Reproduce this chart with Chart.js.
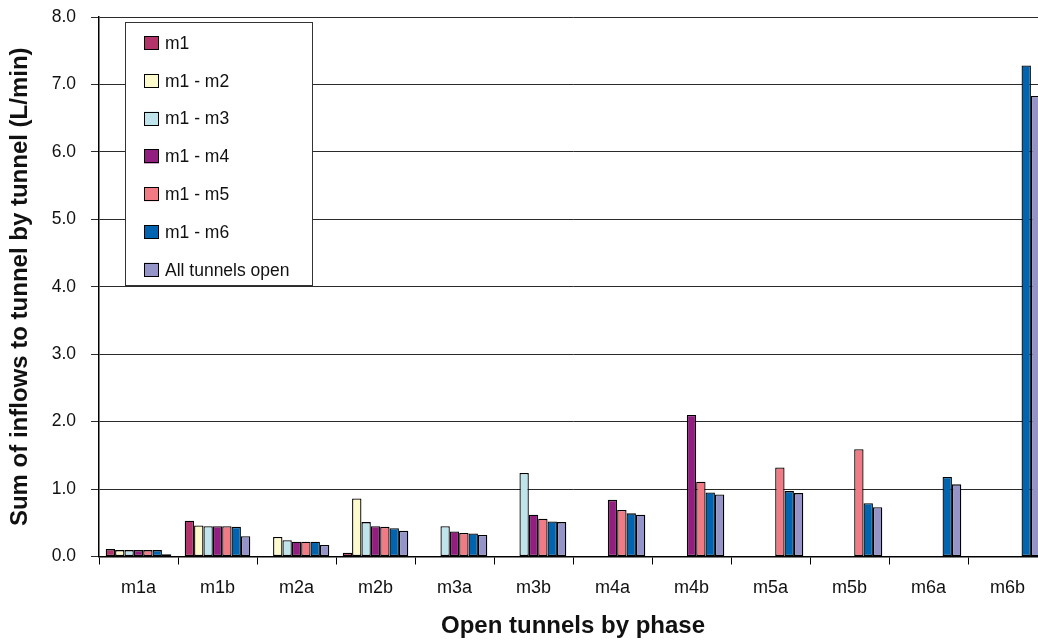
<!DOCTYPE html>
<html>
<head>
<meta charset="utf-8">
<script src="https://cdn.jsdelivr.net/npm/chart.js@4/dist/chart.umd.min.js"></script>
<style>
  html, body { margin: 0; padding: 0; background: #fff; overflow: hidden; }
  #wrap { position: absolute; left: 0; top: 0; width: 1060px; height: 641px; }
</style>
</head>
<body>
<div id="wrap"><canvas id="c" width="1060" height="641"></canvas></div>
<script>
// Phases of tunnel opening
const categories = ['m1a', 'm1b', 'm2a', 'm2b', 'm3a', 'm3b', 'm4a', 'm4b', 'm5a', 'm5b', 'm6a', 'm6b'];

// Sum of inflows (L/min) for each set of open tunnels
const m1      = [0.11, 0.53, null, 0.055, null, null, null, null, null, null, null, null];
const m1_m2   = [0.095, 0.46, 0.29, 0.86, null, null, null, null, null, null, null, null];
const m1_m3   = [0.095, 0.45, 0.24, 0.51, 0.45, 1.24, null, null, null, null, null, null];
const m1_m4   = [0.095, 0.45, 0.22, 0.45, 0.37, 0.62, 0.84, 2.10, null, null, null, null];
const m1_m5   = [0.095, 0.45, 0.22, 0.44, 0.35, 0.56, 0.69, 1.11, 1.32, 1.59, null, null];
const m1_m6   = [0.095, 0.44, 0.22, 0.42, 0.34, 0.52, 0.64, 0.95, 0.97, 0.79, 1.18, 7.28];
const allOpen = [0.035, 0.30, 0.17, 0.38, 0.32, 0.51, 0.62, 0.92, 0.94, 0.73, 1.07, 6.83];

const seriesLabels = ['m1', 'm1 - m2', 'm1 - m3', 'm1 - m4', 'm1 - m5', 'm1 - m6', 'All tunnels open'];
const seriesData = [m1, m1_m2, m1_m3, m1_m4, m1_m5, m1_m6, allOpen];
const seriesColors = ['#b3336b', '#fdfacd', '#c0e4ec', '#921e80', '#f07b84', '#0064b0', '#9494c8'];

const yTicks = [0, 1, 2, 3, 4, 5, 6, 7, 8];

const FONT = "'Liberation Sans', Arial, Helvetica, sans-serif";
Chart.defaults.font.family = FONT;
Chart.defaults.color = '#111';

// Boxed legend drawn inside the plot area, top-left
const boxedLegend = {
  id: 'boxedLegend',
  afterDatasetsDraw(chart) {
    const ctx = chart.ctx;
    const a = chart.chartArea;
    const x0 = a.left + 26, y0 = a.top + 5, w = 187, h = 263;
    ctx.save();
    ctx.fillStyle = '#fff';
    ctx.fillRect(x0, y0, w, h);
    ctx.strokeStyle = '#333';
    ctx.lineWidth = 1;
    ctx.strokeRect(Math.round(x0) + 0.5, Math.round(y0) + 0.5, w, h);
    ctx.font = '17.5px ' + FONT;
    ctx.textBaseline = 'middle';
    chart.data.datasets.forEach((ds, i) => {
      const cy = y0 + 21 + i * 37.8;
      const sx = x0 + 19;
      ctx.fillStyle = ds.backgroundColor;
      ctx.fillRect(sx, cy - 7, 15, 14);
      ctx.strokeStyle = '#000';
      ctx.strokeRect(Math.round(sx) + 0.5, Math.round(cy - 7) + 0.5, 14, 13);
      ctx.fillStyle = '#111';
      ctx.fillText(ds.label, sx + 21, cy + 1);
    });
    ctx.restore();
  }
};

new Chart(document.getElementById('c'), {
  type: 'bar',
  data: {
    labels: categories,
    datasets: seriesData.map((d, i) => ({
      label: seriesLabels[i],
      data: d,
      backgroundColor: seriesColors[i],
      borderColor: '#000',
      borderWidth: 1.3,
      borderSkipped: false,
      categoryPercentage: 0.83,
      barPercentage: 1.0
    }))
  },
  options: {
    responsive: false,
    animation: false,
    layout: { padding: { left: 0, right: 13, top: 17, bottom: 0 } },
    plugins: { legend: { display: false }, tooltip: { enabled: false } },
    scales: {
      x: {
        grid: { offset: true, drawOnChartArea: false, drawTicks: true, tickLength: 8, color: '#000', lineWidth: 1 },
        border: { display: true, color: '#000', width: 1.5 },
        ticks: { font: { size: 18 }, color: '#111', padding: 13, maxRotation: 0 },
        title: { display: true, text: 'Open tunnels by phase', font: { size: 24, weight: 'bold' }, color: '#111', padding: { top: 0, bottom: 0 } },
        afterFit(scale) { scale.height = 84.5; }
      },
      y: {
        min: yTicks[0],
        max: yTicks[yTicks.length - 1],
        afterBuildTicks(scale) { scale.ticks = yTicks.map(v => ({ value: v })); },
        grid: { color: '#2a2a2a', lineWidth: 1, tickLength: 8, drawTicks: true },
        border: { display: true, color: '#000', width: 1.5 },
        ticks: { font: { size: 17.5 }, color: '#111', padding: 15, callback: v => Number(v).toFixed(1) },
        title: { display: true, text: 'Sum of inflows to tunnel by tunnel (L/min)', font: { size: 24, weight: 'bold' }, color: '#111', padding: { top: 6, bottom: 0 } },
        afterFit(scale) {
          scale.width = 99;
          scale.paddingTop = 0;
          scale.paddingBottom = 0;
        }
      }
    }
  },
  plugins: [boxedLegend]
});
</script>
</body>
</html>
